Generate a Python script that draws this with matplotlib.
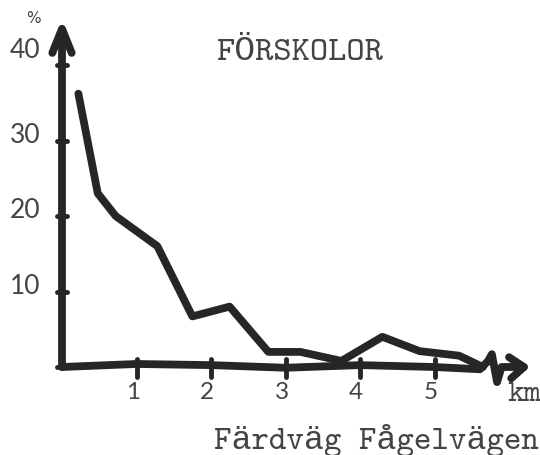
import numpy as np
from matplotlib import pyplot as plt

# andel barn (%) per färdavstånd (km), förskolor
dist = [0.22, 0.48, 0.72, 1.28, 1.75, 2.25, 2.77, 3.2, 3.75, 4.3, 4.8, 5.33, 5.65]
pct = [36.2, 23.0, 20.0, 16.0, 6.7, 8.0, 2.0, 2.0, 0.8, 4.0, 2.1, 1.5, 0.0]

x_ticks = [1, 2, 3, 4, 5]
y_ticks = [10, 20, 30, 40]

# handritade axlar (något ojämna)
xaxis_x = [0, 1, 2, 3, 4, 5, 5.61, 5.72, 5.77, 5.84, 5.9, 6.2]
xaxis_y = [0, 0.4, 0.25, -0.1, 0.25, 0.0, -0.3, 0.8, 1.7, -2.0, 0.0, 0.0]
yaxis_x = [0, 0, 0]
yaxis_y = [0, 25, 44.5]

ink = '#262626'
txt = '#444444'
mono = ['cmtt10', 'Liberation Mono']
num = ['Lato', 'Liberation Sans']

fig = plt.figure(figsize=(5.4, 4.56), dpi=100)
ax = fig.add_axes([0, 0, 1, 1])
# x = 0 vid 62 px, 74.5 px/km ; y = 0 vid 368 px, 7.55 px/%
ax.set_xlim(-62 / 74.5, 478 / 74.5)
ax.set_ylim(-88 / 7.55, 368 / 7.55)
ax.axis('off')

lw = 5.6
ax.plot(xaxis_x, xaxis_y, color=ink, lw=lw, solid_capstyle='round', solid_joinstyle='round')
ax.plot(yaxis_x, yaxis_y, color=ink, lw=lw, solid_capstyle='round')

# pilspetsar
ax.plot([-0.13, 0.0, 0.13], [41.6, 44.8, 41.6], color=ink, lw=lw,
        solid_capstyle='round', solid_joinstyle='round')
ax.plot([6.0, 6.2, 6.03], [1.3, 0.0, -1.5], color=ink, lw=lw,
        solid_capstyle='round', solid_joinstyle='round')

# tickmarkeringar
for t in x_ticks:
    ax.plot([t, t], [1.0, -1.3], color=ink, lw=3.5, solid_capstyle='round')
    ax.text(t - 0.05, -1.8, str(t), ha='center', va='top', fontsize=17.5,
            family=num, color=txt)
for t in y_ticks:
    ax.plot([-0.07, 0.07], [t, t], color=ink, lw=3.5, solid_capstyle='round')
    ax.text(-0.5, t + (2.0 if t == 40 else 0.8), str(t), ha='center', va='center',
            fontsize=19, family=num, color=txt)
ax.plot([-0.07, 0.07], [0, 0], color=ink, lw=3.5, solid_capstyle='round')

# kurvan
ax.plot(dist, pct, color=ink, lw=lw, solid_capstyle='round', solid_joinstyle='round')

ax.text(-0.39, 46.3, '%', ha='center', va='center', fontsize=11,
        family='DejaVu Sans', color=txt)
ax.text(0.555, 0.883, 'FÖRSKOLOR', transform=ax.transAxes, ha='center', va='center',
        fontsize=25, family=mono, color=txt)
ax.text(6.2, -3.6, 'km', ha='center', va='center', fontsize=23, family=mono, color=txt)
ax.text(0.998, 0.035, 'Färdväg Fågelvägen', transform=ax.transAxes, ha='right',
        va='center', fontsize=24, family=mono, color=txt)

fig.savefig('out.png', dpi=100)
